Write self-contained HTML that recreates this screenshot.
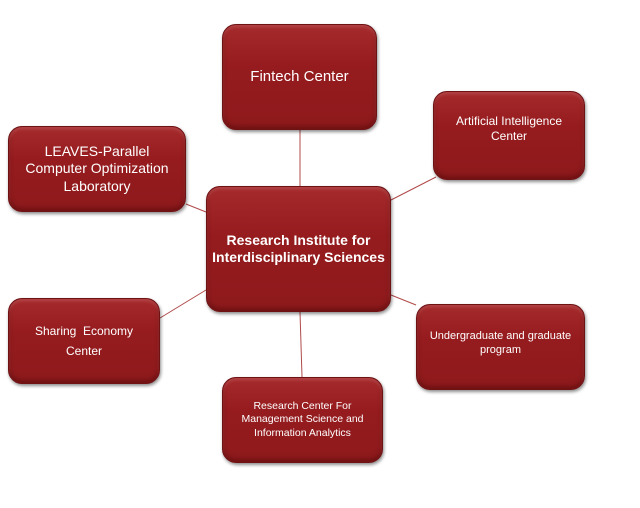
<!DOCTYPE html>
<html><head><meta charset="utf-8"><style>
html,body{margin:0;padding:0;background:#fff;width:640px;height:508px;overflow:hidden;position:relative;font-family:"Liberation Sans",sans-serif}
.b{position:absolute;box-sizing:border-box;border-radius:14px;background:linear-gradient(#a52a2c,#951b1e 40%,#8e1a1c);border:1px solid #6e1214;box-shadow:1px 2px 3px rgba(0,0,0,.45), inset 0 -3px 5px rgba(60,0,0,.4), inset 0 2px 3px rgba(255,200,200,.2);color:#fff;display:flex;align-items:center;justify-content:center;text-align:center;line-height:1.25}
svg{position:absolute;left:0;top:0}
</style></head><body>
<svg width="640" height="508"><g stroke="#b04a4a" stroke-width="1">
<line x1="300" y1="130" x2="300" y2="186"/>
<line x1="436" y1="177" x2="391" y2="200"/>
<line x1="186" y1="204" x2="206" y2="212"/>
<line x1="160" y1="318" x2="206" y2="290"/>
<line x1="391" y1="295" x2="416" y2="305"/>
<line x1="300" y1="312" x2="302" y2="377"/>
</g></svg>
<div class="b" style="left:222px;top:24px;width:155px;height:106px;font-size:15px">Fintech Center</div>
<div class="b" style="left:433px;top:91px;width:152px;height:89px;font-size:12px;padding-bottom:14px">Artificial Intelligence<br>Center</div>
<div class="b" style="left:8px;top:126px;width:178px;height:86px;font-size:14px">LEAVES-Parallel<br>Computer Optimization<br>Laboratory</div>
<div class="b" style="left:206px;top:186px;width:185px;height:126px;font-size:14px;font-weight:bold">Research Institute for<br>Interdisciplinary Sciences</div>
<div class="b" style="left:8px;top:298px;width:152px;height:86px;font-size:12px;line-height:1.7">Sharing&nbsp; Economy<br>Center</div>
<div class="b" style="left:416px;top:304px;width:169px;height:86px;font-size:11px;padding-bottom:6px">Undergraduate and graduate<br>program</div>
<div class="b" style="left:222px;top:377px;width:161px;height:86px;font-size:10.5px">Research Center For<br>Management Science and<br>Information Analytics</div>
</body></html>
